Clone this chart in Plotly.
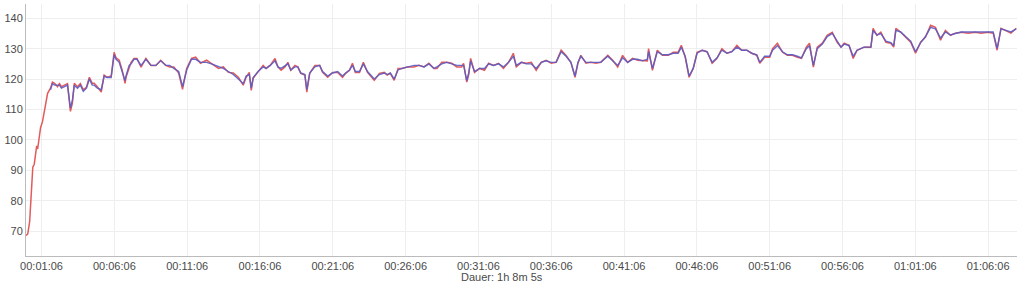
import plotly.graph_objects as go

# elapsed seconds / heart rate (red series)
t_red = [0, 9, 17, 25, 30, 36, 42, 46, 50, 56, 62, 70, 79, 91, 103, 111, 120, 132, 140, 148,
         160, 173, 185, 193, 201, 214, 226, 238, 251, 263, 275, 283, 296, 312, 324, 336, 353, 365, 373, 386,
         398, 410, 414, 427, 435, 447, 459, 476, 496, 517, 537, 557, 578, 594, 611, 631, 647, 664, 684, 701,
         721, 746, 766, 795, 815, 836, 856, 877, 897, 909, 922, 930, 938, 958, 979, 991, 1008, 1028, 1040, 1053,
         1069, 1081, 1093, 1110, 1122, 1134, 1151, 1159, 1171, 1192, 1212, 1224, 1245, 1265, 1286, 1306, 1319, 1335, 1347, 1359,
         1376, 1392, 1409, 1437, 1458, 1478, 1490, 1503, 1519, 1535, 1552, 1572, 1601, 1621, 1642, 1662, 1683, 1695, 1715, 1736,
         1756, 1777, 1797, 1805, 1818, 1826, 1834, 1850, 1871, 1891, 1908, 1928, 1949, 1969, 1990, 2010, 2022, 2043, 2063, 2084,
         2104, 2125, 2145, 2166, 2186, 2207, 2227, 2247, 2264, 2276, 2288, 2309, 2329, 2350, 2370, 2399, 2419, 2440, 2460, 2481,
         2501, 2522, 2542, 2562, 2567, 2583, 2603, 2624, 2648, 2669, 2689, 2702, 2718, 2734, 2751, 2767, 2788, 2808, 2829, 2849,
         2869, 2890, 2910, 2931, 2951, 2972, 2992, 3013, 3025, 3045, 3066, 3078, 3098, 3119, 3139, 3160, 3180, 3197, 3217, 3230,
         3246, 3262, 3283, 3303, 3324, 3344, 3360, 3373, 3393, 3410, 3426, 3455, 3483, 3492, 3508, 3524, 3545, 3565, 3577, 3586,
         3606, 3626, 3647, 3667, 3688, 3708, 3729, 3749, 3770, 3790, 3811, 3831, 3856, 3884, 3913, 3937, 3966, 3987, 4003, 4019,
         4040, 4060, 4082]
hr_red = [68.5, 69, 73, 85, 91, 92, 95, 98, 97, 100, 104, 106, 110, 115.3, 117, 119, 118.6, 117.5, 118.5, 117.5,
          118, 118.5, 109.4, 112, 118.6, 117.5, 118.5, 116.5, 117.3, 120.6, 118.6, 118.6, 117.5, 115.7, 121.3, 120.6, 121, 128.8, 127, 126.2,
          123, 118.6, 120.6, 124, 125.5, 126.8, 126.8, 123.9, 126.8, 124.5, 124.5, 126.2, 124.5, 124, 124, 122, 116.6, 123.5, 126.8, 127.2,
          125.2, 126.2, 125.2, 123.5, 124, 122.2, 122, 120.6, 118, 120.6, 122.2, 116.3, 120.3, 122.2, 124.5, 123.5, 124.5, 126.8, 124, 122.9,
          124, 125.5, 122.9, 124.5, 124, 121.9, 121.3, 115.7, 121.9, 124.5, 124.5, 122.2, 120.6, 122.2, 122.2, 120.6, 121.9, 122.9, 125.2, 122.2,
          122.2, 125.5, 122.2, 119.6, 121.9, 122.2, 121.3, 121.9, 119.6, 123.5, 123.5, 124, 124, 124.5, 124, 125.2, 123.5, 123.5, 125.5, 125.5,
          125.2, 124, 124, 125.2, 119, 121.5, 126.8, 122.2, 123.5, 122.9, 125.2, 124.5, 125.2, 123.5, 125.5, 128.5, 124, 125.5, 125.2, 125.5,
          122.9, 125.5, 126.2, 125.2, 125.5, 129.5, 127.8, 125.5, 120.6, 125.2, 127.8, 125.2, 125.5, 125.2, 125.5, 127.8, 126.2, 124, 127.8, 125.5,
          126.8, 126.2, 126.2, 126, 130, 122.9, 129.5, 127.8, 127.8, 128.8, 128.8, 131.1, 127.2, 120.6, 123.5, 128.8, 129.5, 129, 125.2, 126.8,
          130, 128.5, 129, 131.1, 129.5, 129.5, 128.5, 127.8, 125.2, 127.2, 127.2, 130, 131.8, 128.8, 127.8, 127.8, 127.2, 126.8, 130.5, 131.8,
          123.9, 130.5, 131.8, 134.4, 135.4, 132.1, 130.5, 131.8, 131.1, 126.8, 129.5, 130.5, 130.5, 136.7, 134.4, 135.4, 132.1, 131.8, 130.5, 136.7,
          135.4, 133.8, 132.1, 128.5, 132.1, 133.8, 137.7, 137, 132.8, 136, 134.4, 135.1, 135.4, 135.1, 135.4, 135.1, 135.4, 135.1, 129.5, 136.7,
          136, 135.1, 136.7]

# blue series (second trace, starts a little later)
t_blue = [103, 111, 120, 132, 140, 148, 160, 173, 185, 193, 201, 214, 226, 238, 251, 263, 275, 283, 296, 312,
          324, 336, 353, 365, 373, 386, 398, 410, 414, 427, 435, 447, 459, 476, 496, 517, 537, 557, 578, 594,
          611, 631, 647, 664, 684, 701, 721, 746, 766, 795, 815, 836, 856, 877, 897, 909, 922, 930, 938, 958,
          979, 991, 1008, 1028, 1040, 1053, 1069, 1081, 1093, 1110, 1122, 1134, 1151, 1159, 1171, 1192, 1212, 1224, 1245, 1265,
          1286, 1306, 1319, 1335, 1347, 1359, 1376, 1392, 1409, 1437, 1458, 1478, 1490, 1503, 1519, 1535, 1552, 1572, 1601, 1621,
          1642, 1662, 1683, 1695, 1715, 1736, 1756, 1777, 1797, 1805, 1818, 1826, 1834, 1850, 1871, 1891, 1908, 1928, 1949, 1969,
          1990, 2010, 2022, 2043, 2063, 2084, 2104, 2125, 2145, 2166, 2186, 2207, 2227, 2247, 2264, 2276, 2288, 2309, 2329, 2350,
          2370, 2399, 2419, 2440, 2460, 2481, 2501, 2522, 2542, 2562, 2567, 2583, 2603, 2624, 2648, 2669, 2689, 2702, 2718, 2734,
          2751, 2767, 2788, 2808, 2829, 2849, 2869, 2890, 2910, 2931, 2951, 2972, 2992, 3013, 3025, 3045, 3066, 3078, 3098, 3119,
          3139, 3160, 3180, 3197, 3217, 3230, 3246, 3262, 3283, 3303, 3324, 3344, 3360, 3373, 3393, 3410, 3426, 3455, 3483, 3492,
          3508, 3524, 3545, 3565, 3577, 3586, 3606, 3626, 3647, 3667, 3688, 3708, 3729, 3749, 3770, 3790, 3811, 3831, 3856, 3884,
          3913, 3937, 3966, 3987, 4003, 4019, 4040, 4060, 4082]
hr_blue = [116.5, 118.5, 118, 118, 118, 117, 117.5, 118, 110.5, 113, 118, 117, 118, 116, 117, 120, 118, 118, 117, 116.5,
           121, 120.5, 120.5, 128, 126.5, 125.5, 122.5, 119.5, 121, 124.5, 125, 126.5, 126.5, 124.5, 126.5, 124.5, 124.5, 126, 124.5, 124.5,
           123.5, 122.5, 117.5, 123, 126.5, 126.5, 125.5, 125.5, 125, 124, 123.5, 122.5, 121.5, 120, 118.5, 121, 121.5, 117, 120.5, 122.5,
           124, 123.5, 124.5, 126, 124, 123.5, 124.5, 125, 123, 124, 124, 122, 121.5, 116.5, 122, 124, 124.5, 122.5, 121, 122,
           122.5, 121, 122, 123, 124.5, 122.5, 122.5, 125, 122.5, 120, 121.5, 122, 121.5, 122, 120, 123, 123.5, 124, 124.5, 124.5,
           124, 125, 123.5, 124, 125, 125.5, 125, 124.5, 124.5, 124.5, 119.5, 122, 126, 122.5, 123.5, 123.5, 125, 124.5, 125, 124,
           125.5, 127.5, 124.5, 125.5, 125, 125, 123.5, 125.5, 126, 125.5, 125.5, 129, 127.5, 125.5, 121, 125.5, 127.5, 125.5, 125.5, 125.5,
           125.5, 127.5, 126, 124.5, 127, 125.5, 126.5, 126.5, 126, 126.5, 129, 123.5, 129, 128, 128, 128.5, 128.5, 130.5, 127.5, 121,
           123.5, 128.5, 129.5, 129, 125.5, 127, 129.5, 128.5, 129, 130.5, 129.5, 129.5, 128.5, 128, 125.5, 127.5, 127.5, 129.5, 131, 129,
           128, 128, 127.5, 127, 130, 131, 124.5, 130, 131.5, 134, 135, 132.5, 130.5, 131.5, 131, 127.5, 129.5, 130.5, 130.5, 136,
           134.5, 135, 132.5, 132, 131, 136, 135.5, 134, 132.5, 129, 132, 134, 137, 136.5, 133.5, 135.5, 134.5, 135, 135.5, 135.5,
           135.5, 135.5, 135.5, 135.5, 130, 136.5, 136, 135.5, 136.5]

tick_vals = [66, 366, 666, 966, 1266, 1566, 1866, 2166, 2466, 2766, 3066, 3366, 3666, 3966]
tick_text = ["00:01:06", "00:06:06", "00:11:06", "00:16:06", "00:21:06", "00:26:06", "00:31:06",
             "00:36:06", "00:41:06", "00:46:06", "00:51:06", "00:56:06", "01:01:06", "01:06:06"]
y_ticks = [70, 80, 90, 100, 110, 120, 130, 140]
x_title = "Dauer: 1h 8m 5s"

fig = go.Figure()
fig.add_trace(go.Scatter(x=t_red, y=hr_red, mode="lines",
                         line=dict(color="#e25b5b", width=1.5), showlegend=False))
fig.add_trace(go.Scatter(x=t_blue, y=hr_blue, mode="lines",
                         line=dict(color="#5b5bc4", width=1.4), opacity=0.9, showlegend=False))

fig.update_layout(
    width=1024, height=282,
    margin=dict(l=21, r=7, t=4, b=26),
    paper_bgcolor="white", plot_bgcolor="white",
    font=dict(family="Liberation Sans, Arial, sans-serif", size=11, color="#4a4a4a"),
    xaxis=dict(range=[2, 4085], tickmode="array", tickvals=tick_vals, ticktext=tick_text,
               showgrid=True, gridcolor="#eeeeee", gridwidth=1, zeroline=False,
               showline=True, linecolor="#bbbbbb", linewidth=1, ticks="",
               tickfont=dict(size=11, color="#4a4a4a")),
    yaxis=dict(range=[61.8, 144.7], tickmode="array", tickvals=y_ticks,
               showgrid=True, gridcolor="#eeeeee", gridwidth=1, zeroline=False,
               showline=True, linecolor="#bbbbbb", linewidth=1, ticks="",
               tickfont=dict(size=11, color="#4a4a4a")),
    annotations=[dict(text=x_title, xref="paper", yref="paper", x=0.48, y=-0.083,
                      xanchor="center", yanchor="middle", showarrow=False,
                      font=dict(size=11, color="#4a4a4a"))],
)

fig.write_html("out.html")
